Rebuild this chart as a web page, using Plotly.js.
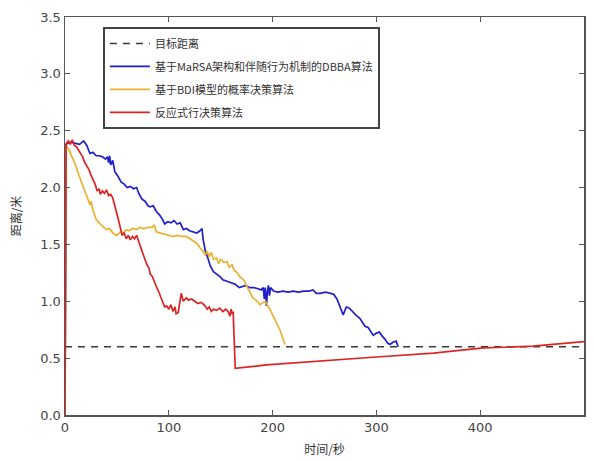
<!DOCTYPE html>
<html><head><meta charset="utf-8">
<script src="https://cdn.plot.ly/plotly-3.0.1.min.js"></script>
<style>html,body{margin:0;padding:0;background:#fff}#chart{width:594px;height:462px}</style>
</head><body><div id="chart"></div>
<script>
const seriesNames = ["目标距离", "基于MaRSA架构和伴随行为机制的DBBA算法", "基于BDI模型的概率决策算法", "反应式行决策算法"];
const targetX = [0, 500];
const targetY = [0.6, 0.6];

const blueX = [0,1,5,10,14,18,21,24,27,30,33,36,39,41,42,43,44,46,48,51,54,57,60,63,66,69,71,74,77,80,82,85,88,91,94,96,99,102,105,108,111,114,117,120,124,127,130,132,133,135,138,140,143,146,149,152,155,159,164,168,171,174,178,182,186,189,191,192,193,194,195,196,197,198,201,205,210,215,220,225,230,235,239,242,246,251,256,259,262,265,268,271,274,277,280,284,286,289,292,295,297,300,303,305,308,311,313,316,319,321];
const blueY = [0,2.38,2.40,2.39,2.38,2.41,2.37,2.30,2.31,2.28,2.28,2.27,2.25,2.27,2.22,2.28,2.20,2.24,2.14,2.10,2.05,2.03,2.00,2.01,1.99,2.00,1.95,1.90,1.88,1.84,1.83,1.84,1.79,1.76,1.72,1.68,1.70,1.69,1.71,1.68,1.69,1.63,1.64,1.62,1.61,1.60,1.62,1.64,1.55,1.45,1.37,1.31,1.26,1.24,1.22,1.19,1.18,1.16,1.15,1.12,1.13,1.14,1.12,1.12,1.11,1.10,1.12,1.02,1.12,0.96,1.08,1.14,1.05,1.12,1.09,1.08,1.09,1.08,1.09,1.08,1.09,1.09,1.10,1.07,1.07,1.08,1.07,1.06,1.02,0.95,0.88,0.95,0.94,0.91,0.88,0.85,0.82,0.78,0.77,0.72,0.70,0.72,0.73,0.70,0.67,0.63,0.62,0.64,0.65,0.60];

const yellowX = [0,1,4,7,10,13,16,19,22,24,25,27,30,33,36,40,43,46,50,53,56,59,62,65,69,72,76,80,84,86,88,92,96,100,104,108,112,117,120,124,127,130,133,135,137,139,141,143,146,148,150,153,156,158,161,163,165,168,172,177,181,184,188,191,193,196,198,201,204,207,210,212];
const yellowY = [0,2.37,2.33,2.27,2.20,2.12,2.04,1.98,1.90,1.85,1.88,1.80,1.72,1.69,1.66,1.63,1.64,1.60,1.58,1.61,1.60,1.63,1.62,1.64,1.63,1.65,1.64,1.65,1.65,1.67,1.61,1.60,1.59,1.58,1.57,1.58,1.57,1.57,1.55,1.53,1.51,1.47,1.44,1.41,1.44,1.39,1.43,1.37,1.38,1.33,1.37,1.34,1.35,1.30,1.32,1.27,1.26,1.22,1.19,1.10,1.03,1.01,0.97,0.99,1.00,0.95,0.92,0.86,0.80,0.75,0.67,0.62];

const redX = [0,1,3,5,7,9,11,13,15,17,19,21,23,25,27,29,31,33,34,36,38,40,42,44,46,48,50,52,54,55,57,59,61,63,65,67,69,71,73,75,77,79,81,82,84,86,88,90,92,94,96,98,100,102,104,106,107,109,111,112,114,117,119,122,125,128,131,134,137,139,141,143,146,149,152,155,157,159,160,161,162,164,194,258,300,355,403,451,500];
const redY = [0,2.38,2.41,2.38,2.42,2.37,2.36,2.33,2.30,2.27,2.22,2.19,2.16,2.11,2.07,2.03,1.97,1.99,1.94,1.97,1.95,1.98,1.93,1.94,1.91,1.85,1.77,1.70,1.63,1.58,1.60,1.55,1.58,1.54,1.57,1.55,1.58,1.52,1.47,1.42,1.37,1.32,1.29,1.24,1.22,1.17,1.13,1.09,1.04,1.00,0.95,0.96,0.93,0.97,0.91,0.95,0.89,0.90,1.01,1.07,1.00,1.03,1.01,1.02,1.00,0.98,0.99,0.97,0.93,0.95,0.91,0.93,0.92,0.94,0.91,0.93,0.91,0.87,0.93,0.89,0.91,0.41,0.44,0.485,0.51,0.545,0.59,0.605,0.645];

const xTicks = [0,100,200,300,400,500];
const yTicks = [0.0,0.5,1.0,1.5,2.0,2.5,3.0,3.5];

const cjk = '"Noto Sans CJK SC", sans-serif';
const traces = [
  {x: targetX, y: targetY, name: seriesNames[0], legendgroup: 'a', mode: 'lines', line: {color: '#3a3a3a', width: 1.5, dash: '7px,6px'}},
  {x: blueX, y: blueY, name: seriesNames[1], legendgroup: 'b', mode: 'lines', line: {color: '#1f1fcc', width: 1.7}},
  {x: yellowX, y: yellowY, name: seriesNames[2], legendgroup: 'c', mode: 'lines', line: {color: '#ecb030', width: 1.7}},
  {x: redX, y: redY, name: seriesNames[3], legendgroup: 'd', mode: 'lines', line: {color: '#dd2424', width: 1.7}}
];
const axisCommon = {showline: true, linecolor: '#555', linewidth: 1.5, mirror: 'ticks', ticks: 'inside', ticklen: 5, tickcolor: '#555', showgrid: false, zeroline: false, tickfont: {family: 'DejaVu Sans, sans-serif', size: 13, color: '#444'}};
const layout = {
  width: 594, height: 462,
  margin: {l: 65, r: 10, t: 17, b: 47},
  paper_bgcolor: '#fff', plot_bgcolor: '#fff',
  showlegend: true,
  legend: {x: 0.073, y: 0.975, xanchor: 'left', yanchor: 'top', bgcolor: '#fff', bordercolor: '#444', borderwidth: 2, font: {family: cjk, size: 11, color: '#333'}, traceorder: 'grouped', tracegroupgap: 4, itemwidth: 40},
  xaxis: Object.assign({}, axisCommon, {range: [0, 500], tickvals: xTicks, ticktext: xTicks.map(String), title: {text: '时间/秒', font: {family: cjk, size: 12, color: '#333'}, standoff: 11}}),
  yaxis: Object.assign({}, axisCommon, {range: [0, 3.5], tickvals: yTicks, ticktext: yTicks.map(v => v.toFixed(1)), title: {text: '距离/米', font: {family: cjk, size: 12, color: '#333'}, standoff: 16}})
};
Plotly.newPlot('chart', traces, layout, {displayModeBar: false, staticPlot: true});
</script>
</body></html>
